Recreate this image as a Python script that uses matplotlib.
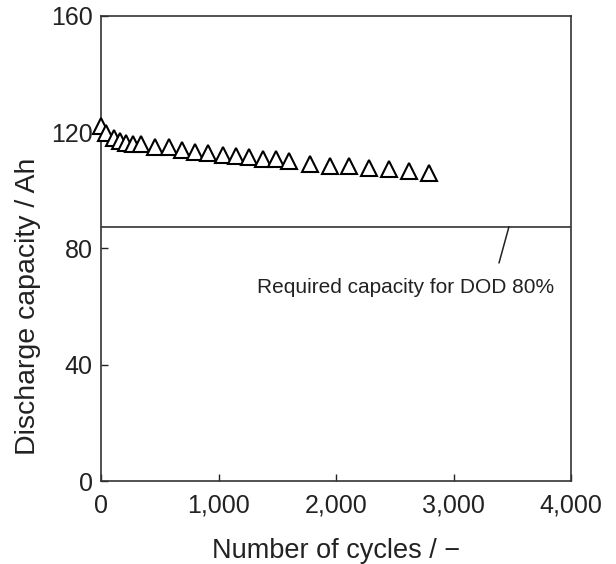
import matplotlib
matplotlib.use("Agg")
import matplotlib.pyplot as plt
from matplotlib.ticker import FuncFormatter

plt.rcParams['font.family'] = ['Liberation Sans', 'DejaVu Sans']

cycles = [0, 43, 108, 165, 213, 270, 340, 460, 581, 686, 800, 913, 1035, 1149,
          1262, 1376, 1489, 1603, 1779, 1949, 2113, 2283, 2453, 2624, 2794]
capacity = [122.2, 119.7, 118.0, 117.0, 116.3, 115.8, 115.8, 115.0, 114.9, 113.7,
            113.1, 112.9, 112.0, 111.8, 111.3, 110.8, 110.8, 109.9, 109.1, 108.5,
            108.5, 107.7, 107.2, 106.7, 106.0]
required_capacity = 87.5
annotation_text = "Required capacity for DOD 80%"
x_ticks = [0, 1000, 2000, 3000, 4000]
y_ticks = [0, 40, 80, 120, 160]

fig = plt.figure(figsize=(6.16, 5.64), dpi=100)
ax = fig.add_axes([0.164, 0.147, 0.763, 0.825])

ax.plot(cycles, capacity, linestyle='none', marker='^', markersize=11,
        markerfacecolor='white', markeredgecolor='black', markeredgewidth=1.5,
        clip_on=False, zorder=3)
ax.axhline(required_capacity, color='#333333', linewidth=1.2)

ax.set_xlim(0, 4000)
ax.set_ylim(0, 160)
ax.set_xticks(x_ticks)
ax.set_yticks(y_ticks)
ax.xaxis.set_major_formatter(FuncFormatter(lambda v, p: f"{int(v):,}"))
ax.tick_params(direction='in', length=5, width=1, labelsize=18, colors='#222222',
               top=False, right=False)
ax.tick_params(axis='x', pad=9)
ax.tick_params(axis='y', pad=6)
for s in ax.spines.values():
    s.set_color('#333333')
    s.set_linewidth(1.2)

ax.set_xlabel("Number of cycles / \u2212", fontsize=19.5, color='#222222')
ax.xaxis.set_label_coords(0.5, -0.122)
ax.set_ylabel("Discharge capacity / Ah", fontsize=20.5, color='#222222')
ax.yaxis.set_label_coords(-0.128, 0.375)

ax.text(2596, 66.4, annotation_text, fontsize=15, color='#222222',
        ha='center', va='center')
ax.annotate('', xy=(3472, required_capacity), xytext=(3387, 75),
            arrowprops=dict(arrowstyle='-', color='#222222', lw=1.1,
                            shrinkA=0, shrinkB=0))

fig.savefig("out.png", dpi=100)
